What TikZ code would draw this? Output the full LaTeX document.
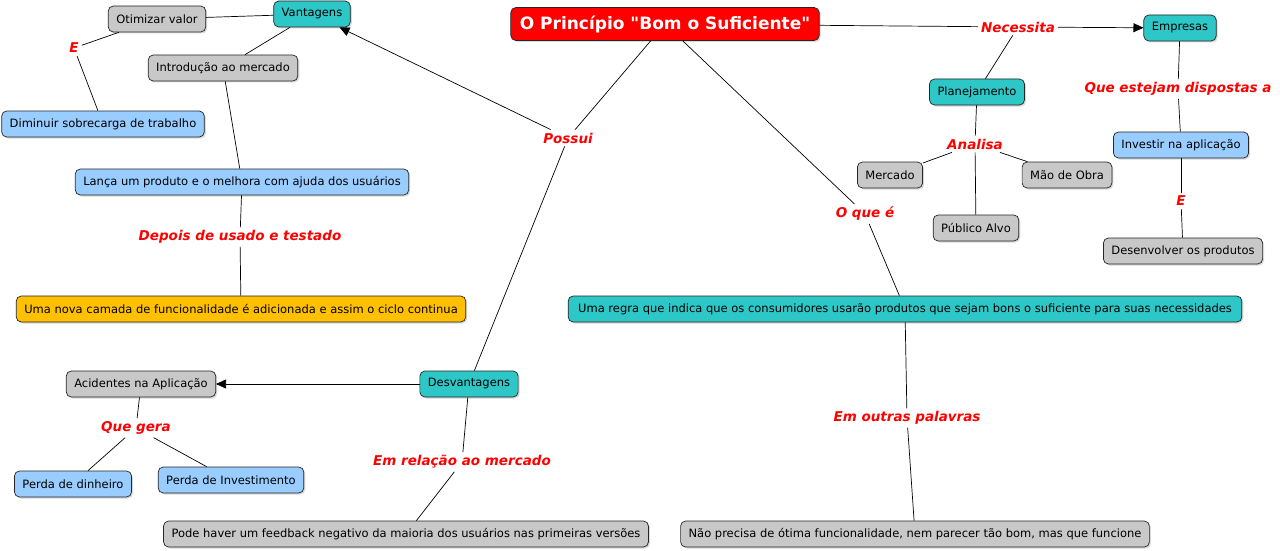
\documentclass[tikz,border=0pt]{standalone}
\usepackage{fontspec}
\setmainfont{DejaVu Sans}[Ligatures=TeXOff]
\usepackage{xcolor}
\definecolor{tealbox}{HTML}{2EC7C7}
\definecolor{graybox}{HTML}{C8C8C8}
\definecolor{bluebox}{HTML}{99CCFF}
\definecolor{yellowbox}{HTML}{FFC000}
\definecolor{titlered}{HTML}{FF0000}
\usetikzlibrary{arrows.meta, shadows}

\begin{document}
\begin{tikzpicture}[x=1pt, y=-1pt,
    concept/.style={draw=black!85, line width=0.7pt, rounded corners=5pt, inner xsep=8pt, inner ysep=0pt,
        minimum height=26pt, font=\fontsize{11.5}{13}\selectfont,
        drop shadow={shadow xshift=1.5pt, shadow yshift=-1.5pt, fill=black!30}},
    tealnode/.style={concept, fill=tealbox},
    graynode/.style={concept, fill=graybox},
    bluenode/.style={concept, fill=bluebox},
    yellownode/.style={concept, fill=yellowbox},
    linkword/.style={text=titlered, inner sep=3pt, font=\fontsize{13.5}{15}\bfseries\itshape\selectfont},
    conn/.style={draw=black, line width=0.7pt},
    arr/.style={conn, -{Triangle[length=10pt, width=9pt]}}
]
    \fill[white] (0,0) rectangle (1280,551);
    \useasboundingbox (0,0) rectangle (1280,551);

    % Main concept
    \node[concept, fill=titlered, text=white, minimum height=33pt, inner xsep=9pt,
        font=\fontsize{17}{20}\bfseries\selectfont] (title) at (665,24) {O Princípio "Bom o Suficiente"};

    % Advantages branch
    \node[tealnode] (vantagens) at (312,14) {Vantagens};
    \node[graynode] (otimizar) at (157,19) {Otimizar valor};
    \node[graynode] (introducao) at (223,68) {Introdução ao mercado};
    \node[bluenode] (diminuir) at (103,124) {Diminuir sobrecarga de trabalho};
    \node[bluenode] (lanca) at (242,182) {Lança um produto e o melhora com ajuda dos usuários};
    \node[yellownode] (camada) at (241,309) {Uma nova camada de funcionalidade é adicionada e assim o ciclo continua};
    \node[linkword] (e1) at (74,48) {E};
    \node[linkword] (depois) at (240,237) {Depois de usado e testado};
    \node[linkword] (possui) at (568,138) {Possui};

    % Disadvantages branch
    \node[tealnode] (desvantagens) at (469,384) {Desvantagens};
    \node[graynode] (acidentes) at (141,384) {Acidentes na Aplicação};
    \node[bluenode] (dinheiro) at (73,484) {Perda de dinheiro};
    \node[bluenode] (investimento) at (231,480) {Perda de Investimento};
    \node[graynode] (feedback) at (406,534) {Pode haver um feedback negativo da maioria dos usuários nas primeiras versões};
    \node[linkword] (quegera) at (136,428) {Que gera};
    \node[linkword] (emrelacao) at (462,462) {Em relação ao mercado};

    % Companies branch
    \node[tealnode] (empresas) at (1180,28) {Empresas};
    \node[bluenode] (investir) at (1181,145) {Investir na aplicação};
    \node[graynode] (desenvolver) at (1183,251) {Desenvolver os produtos};
    \node[linkword] (necessita) at (1018,27) {Necessita};
    \node[linkword] (dispostas) at (1178,89) {Que estejam dispostas a};
    \node[linkword] (e2) at (1181,201) {E};

    % Planning branch
    \node[tealnode] (planejamento) at (977,92) {Planejamento};
    \node[graynode] (mercado) at (890,175) {Mercado};
    \node[graynode] (maodeobra) at (1067,175) {Mão de Obra};
    \node[graynode] (publico) at (976,228) {Público Alvo};
    \node[linkword] (analisa) at (975,144) {Analisa};

    % Definition branch
    \node[tealnode, inner xsep=10pt] (regra) at (905,309) {Uma regra que indica que os consumidores usarão produtos que sejam bons o suficiente para suas necessidades};
    \node[graynode] (naoprecisa) at (915,534) {Não precisa de ótima funcionalidade, nem parecer tão bom, mas que funcione};
    \node[linkword] (oquee) at (865,214) {O que é};
    \node[linkword] (outras) at (907,418) {Em outras palavras};

    % Connectors
    \draw[conn] (title) -- (possui);
    \draw[arr] (possui) -- (vantagens);
    \draw[conn] (possui) -- (desvantagens);
    \draw[conn] (vantagens) -- (otimizar);
    \draw[conn] (vantagens) -- (introducao);
    \draw[conn] (otimizar) -- (e1);
    \draw[conn] (e1) -- (diminuir);
    \draw[conn] (introducao) -- (lanca);
    \draw[conn] (lanca) -- (depois);
    \draw[conn] (depois) -- (camada);

    \draw[arr] (desvantagens) -- (acidentes);
    \draw[conn] (acidentes) -- (quegera);
    \draw[conn] (quegera) -- (dinheiro);
    \draw[conn] (quegera) -- (investimento);
    \draw[conn] (desvantagens) -- (emrelacao);
    \draw[conn] (emrelacao) -- (feedback);

    \draw[conn] (title) -- (necessita);
    \draw[arr] (necessita) -- (empresas);
    \draw[conn] (empresas) -- (dispostas);
    \draw[conn] (dispostas) -- (investir);
    \draw[conn] (investir) -- (e2);
    \draw[conn] (e2) -- (desenvolver);

    \draw[conn] (necessita) -- (planejamento);
    \draw[conn] (planejamento) -- (analisa);
    \draw[conn] (analisa) -- (mercado);
    \draw[conn] (analisa) -- (maodeobra);
    \draw[conn] (analisa) -- (publico);

    \draw[conn] (title) -- (oquee);
    \draw[conn] (oquee) -- (regra);
    \draw[conn] (regra) -- (outras);
    \draw[conn] (outras) -- (naoprecisa);
\end{tikzpicture}
\end{document}
